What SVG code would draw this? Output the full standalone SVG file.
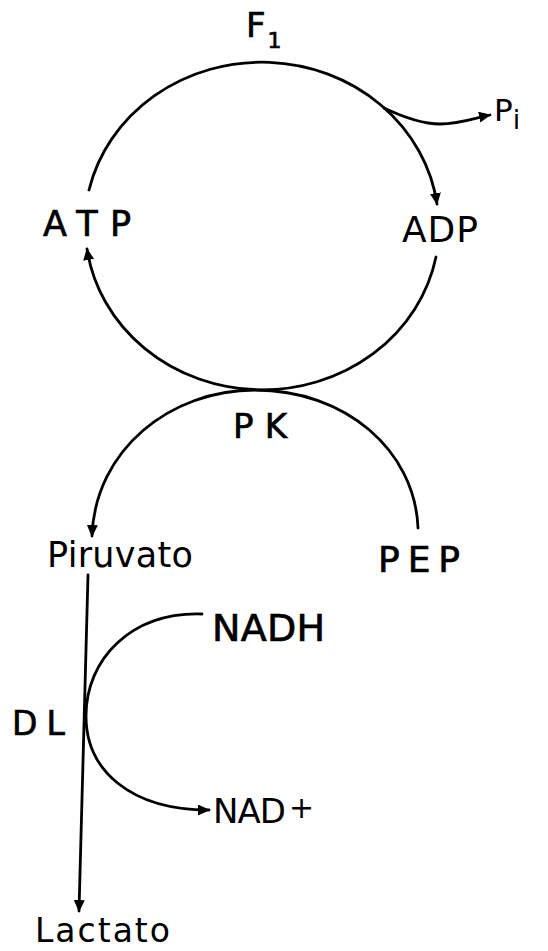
<svg xmlns="http://www.w3.org/2000/svg" width="548" height="951" viewBox="0 0 548 951">
<style>
.c{fill:none;stroke:#000;stroke-width:2.8;stroke-linecap:round}
.t{font-family:"DejaVu Sans","Liberation Sans",Arial,sans-serif;fill:#000}
.b{stroke:#000;stroke-width:0.7}
</style>
<defs>
<marker id="ah" markerWidth="13" markerHeight="11" refX="11" refY="5.5" orient="auto" markerUnits="userSpaceOnUse">
<path d="M0,0 L12,5.5 L0,11 Z" fill="#000"/>
</marker>
</defs>
<rect width="548" height="951" fill="#fff"/>
<g id="connectors">
<path class="c" d="M89,190 A177,164 0 0 1 437,204" marker-end="url(#ah)"/>
<path class="c" d="M436,257 A177,164 0 0 1 87,249" marker-end="url(#ah)"/>
<path class="c" d="M384,108 C405,118 422,124 440,124 C460,124 475,118 490,115" marker-end="url(#ah)"/>
<path class="c" d="M418,528 C415,450 345,390 255,390 C170,390 95,450 92,536" marker-end="url(#ah)"/>
<path class="c" d="M88,575 L79,911" marker-end="url(#ah)"/>
<path class="c" d="M202,614 C130,612 86,660 86,716 C86,770 130,810 209,810" marker-end="url(#ah)"/>
</g>
<g id="F1"><text class="t b" x="246" y="37" font-size="34">F<tspan font-size="22" dx="2" dy="11">1</tspan></text></g>
<g id="Pi"><text class="t" x="494" y="121" font-size="31">P<tspan font-size="27" dy="8">i</tspan></text></g>
<g id="ATP"><text class="t b" x="43" y="236" font-size="35" textLength="88" lengthAdjust="spacing">ATP</text></g>
<g id="ADP"><text class="t" x="402" y="242" font-size="36" textLength="76" lengthAdjust="spacing">ADP</text></g>
<g id="PK"><text class="t b" x="233" y="438" font-size="34" textLength="54" lengthAdjust="spacing">PK</text></g>
<g id="Piruvato"><text class="t" x="47" y="567" font-size="35" textLength="146" lengthAdjust="spacing">Piruvato</text></g>
<g id="PEP"><text class="t b" x="378" y="572" font-size="36" textLength="82" lengthAdjust="spacing">PEP</text></g>
<g id="NADH"><text class="t b" x="212" y="641" font-size="38" textLength="113" lengthAdjust="spacing">NADH</text></g>
<g id="DL"><text class="t b" x="12" y="735" font-size="33" textLength="53" lengthAdjust="spacing">DL</text></g>
<g id="NAD"><text class="t" x="213" y="823" font-size="34" textLength="73" lengthAdjust="spacing">NAD</text><text class="t" x="289" y="818" font-size="30">+</text></g>
<g id="Lactato"><text class="t" x="35" y="942" font-size="33" textLength="135" lengthAdjust="spacing">Lactato</text></g>
</svg>
